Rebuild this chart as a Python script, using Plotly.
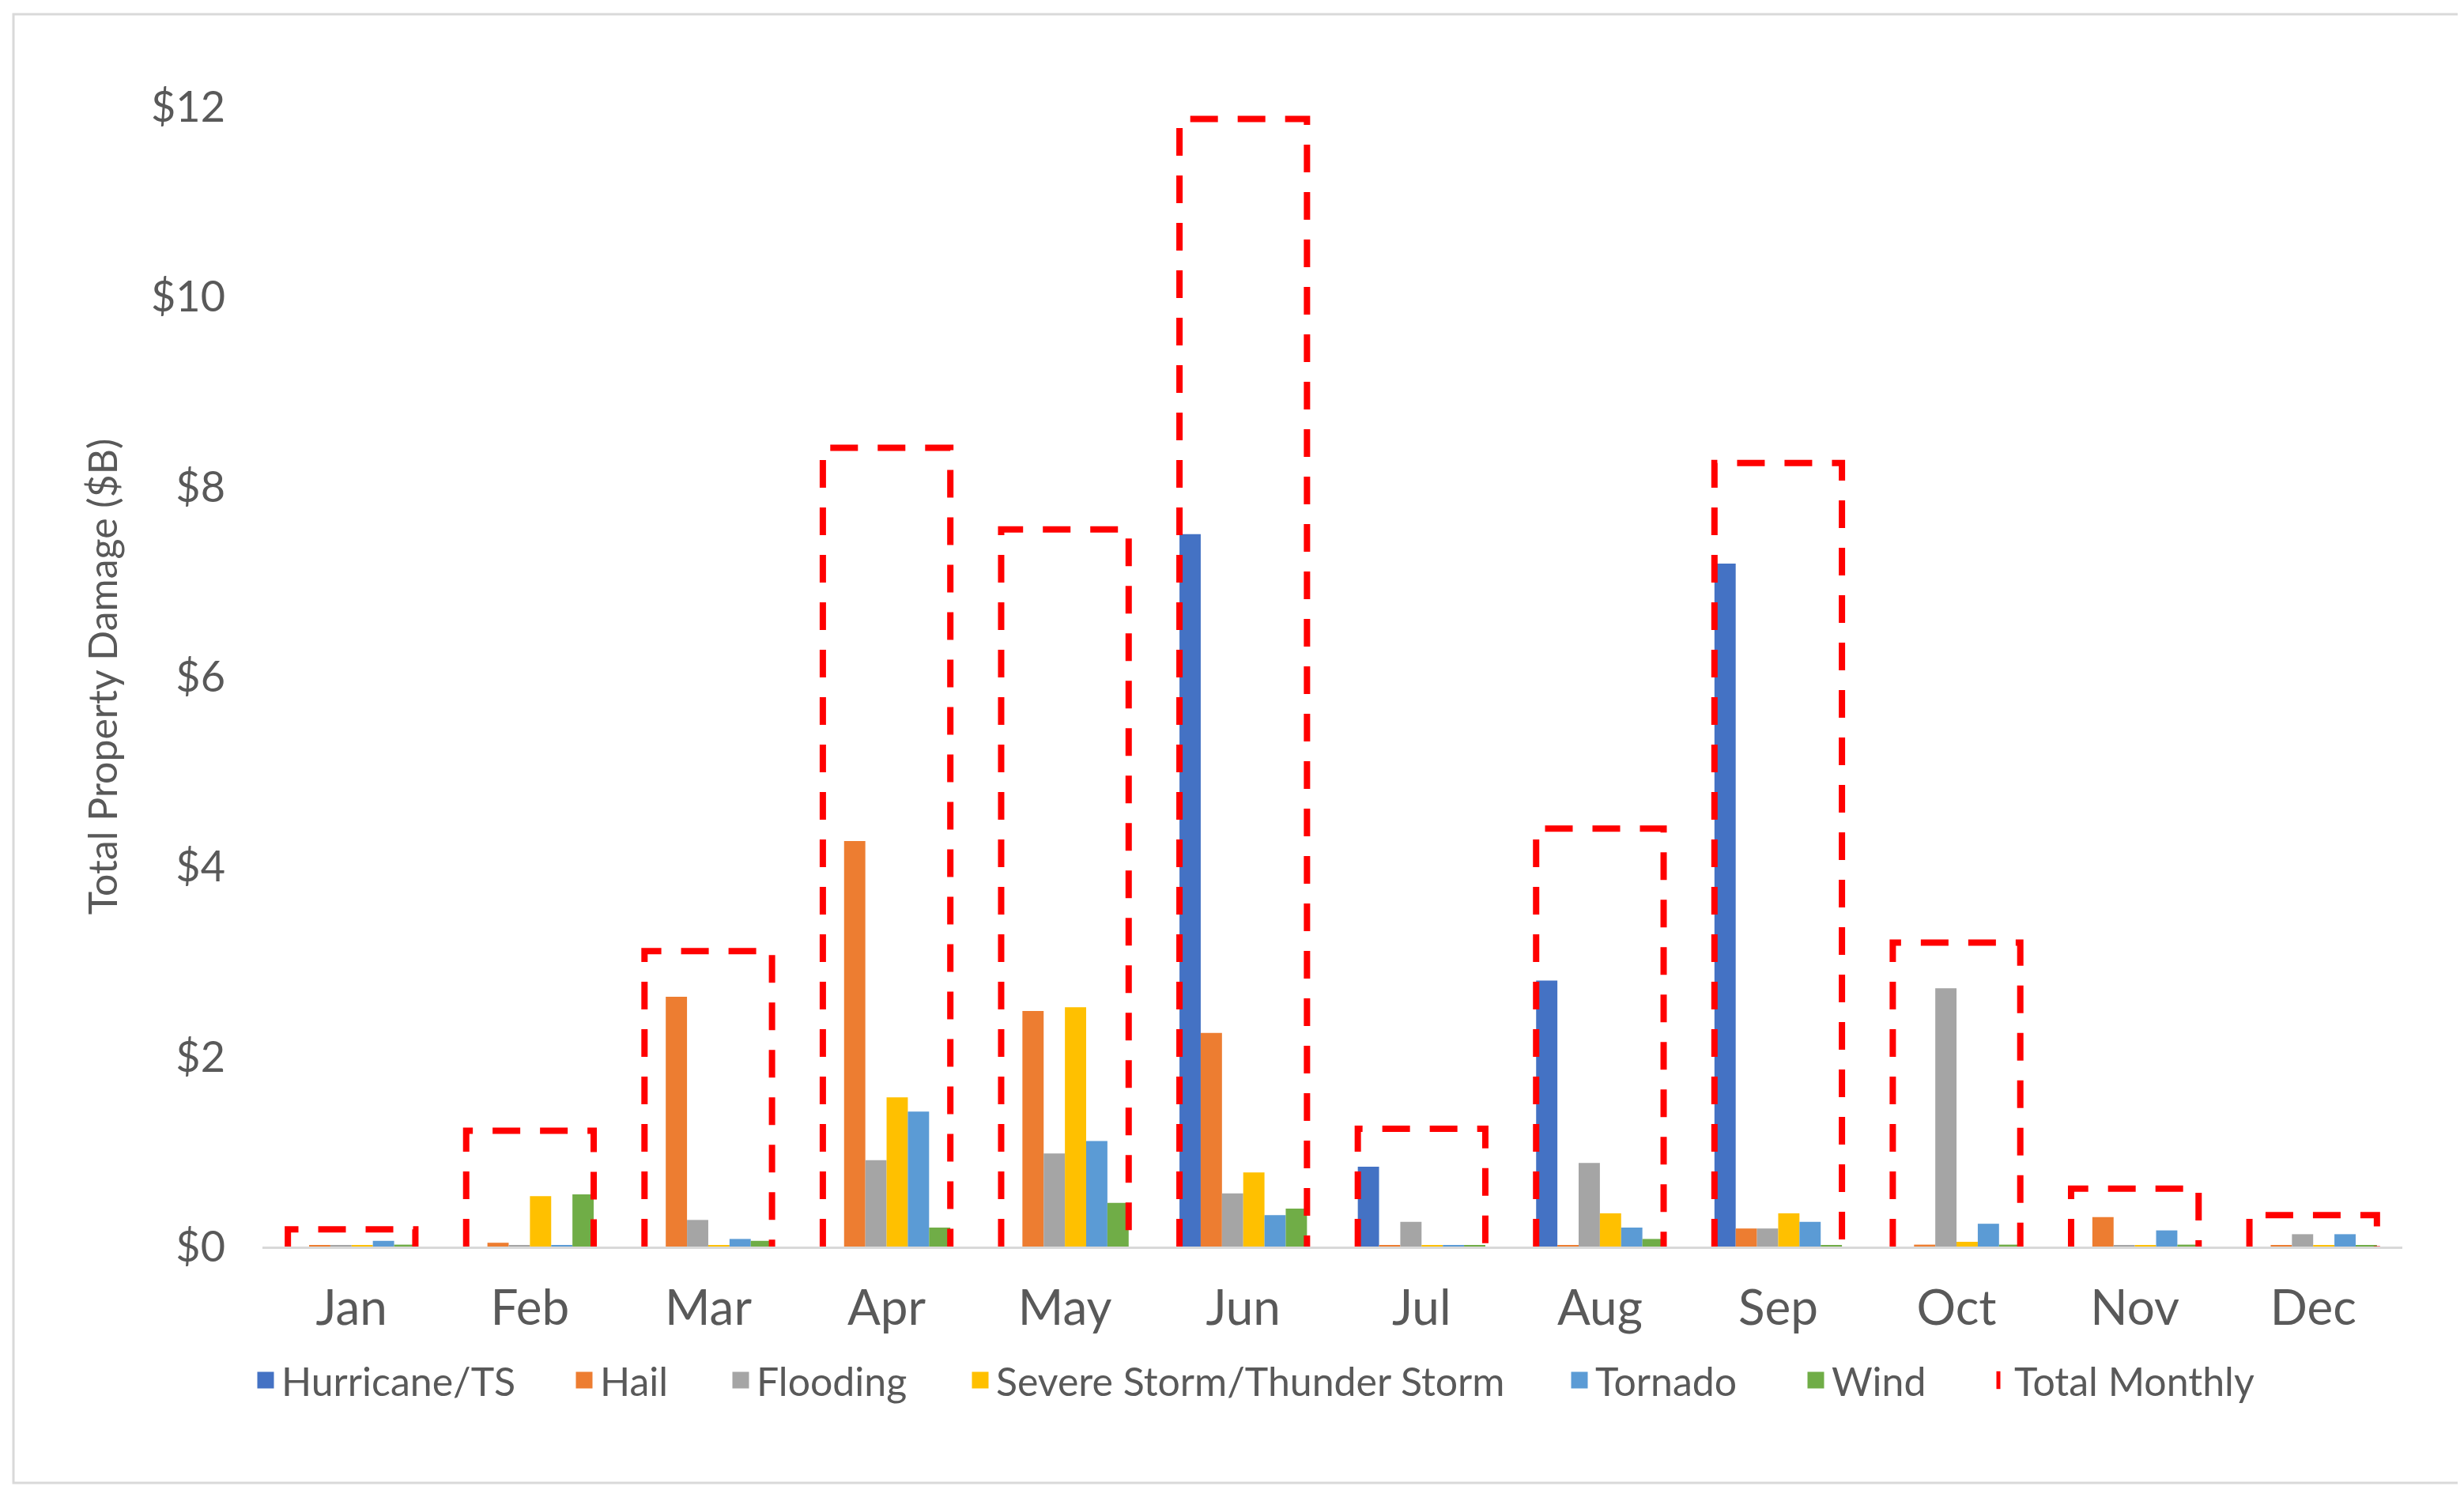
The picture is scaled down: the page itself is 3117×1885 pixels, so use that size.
import plotly.graph_objects as go

months = ["Jan", "Feb", "Mar", "Apr", "May", "Jun", "Jul", "Aug", "Sep", "Oct", "Nov", "Dec"]

hurricane = [0.0, 0.0, 0.0, 0.0, 0.0, 7.50, 0.84, 2.80, 7.19, 0.0, 0.0, 0.0]
hail      = [0.01, 0.04, 2.63, 4.27, 2.48, 2.25, 0.01, 0.01, 0.19, 0.02, 0.31, 0.01]
flooding  = [0.01, 0.01, 0.28, 0.91, 0.98, 0.56, 0.26, 0.88, 0.19, 2.72, 0.01, 0.13]
severe    = [0.01, 0.53, 0.01, 1.57, 2.52, 0.78, 0.01, 0.35, 0.35, 0.05, 0.01, 0.01]
tornado   = [0.06, 0.01, 0.08, 1.42, 1.11, 0.33, 0.01, 0.20, 0.26, 0.24, 0.17, 0.13]
wind      = [0.02, 0.55, 0.06, 0.20, 0.46, 0.40, 0.01, 0.08, 0.01, 0.02, 0.02, 0.01]
total     = [0.18, 1.22, 3.11, 8.41, 7.55, 11.87, 1.24, 4.40, 8.25, 3.20, 0.61, 0.33]

series_names = ["Hurricane/TS", "Hail", "Flooding", "Severe Storm/Thunder Storm", "Tornado", "Wind"]
series_values = [hurricane, hail, flooding, severe, tornado, wind]
series_colors = ["#4472C4", "#ED7D31", "#A5A5A5", "#FFC000", "#5B9BD5", "#70AD47"]
total_name = "Total Monthly"
total_color = "#FF0000"
y_ticks = [0, 2, 4, 6, 8, 10, 12]

W, H = 3117, 1885
L, R, T, B = 324, 86, 127, 316
pw, ph = W - L - R, H - T - B

BARGAP = 0.285
xs = list(range(len(months)))

# legend item symbol centres (px) and legend row centre
legend_centres = [328, 731, 929, 1232, 1990, 2289, 2520]
legend_row_y = 1738
FONT = "Lato, Open Sans, sans-serif"
GREY = "#595959"

fig = go.Figure()
for name, vals, color in zip(series_names, series_values, series_colors):
    fig.add_trace(go.Bar(x=xs, y=vals, name=name, showlegend=False,
                         marker=dict(color=color, line=dict(width=0))))

# dashed outline for the monthly totals (open at the bottom)
half = (1 - BARGAP) / 2
px, py = [], []
for i, t in zip(xs, total):
    px += [i - half, i - half, i + half, i + half, None]
    py += [0, t, t, 0, None]
fig.add_trace(go.Scatter(x=px, y=py, mode="lines", name=total_name, showlegend=False,
                         line=dict(color=total_color, width=8, dash="35px,25px"),
                         hoverinfo="skip"))

# legend entries (one legend per item so spacing matches)
legend_layouts = {}
entries = list(zip(series_names, series_colors)) + [(total_name, total_color)]
for k, (name, color) in enumerate(entries):
    lname = "legend" if k == 0 else f"legend{k + 1}"
    sym = "line-ns-open" if name == total_name else "square"
    fig.add_trace(go.Scatter(x=[None], y=[None], mode="markers", name=name, legend=lname,
                             showlegend=True,
                             marker=dict(symbol=sym, size=16, color=color,
                                         line=dict(color=color, width=5))))
    legend_layouts[lname] = dict(
        orientation="h", xanchor="left", yanchor="middle",
        x=(legend_centres[k] - 20 - L) / pw,
        y=-(legend_row_y - (H - B)) / ph,
        font=dict(size=50, family=FONT, color=GREY),
        itemsizing="trace", bgcolor="rgba(0,0,0,0)", borderwidth=0,
    )

fig.update_layout(
    width=W, height=H,
    margin=dict(l=L, r=R, t=T, b=B),
    paper_bgcolor="white", plot_bgcolor="white",
    barmode="group", bargap=BARGAP, bargroupgap=0,
    font=dict(family=FONT, color=GREY),
    showlegend=True,
    xaxis=dict(range=[-0.5, len(months) - 0.5], tickmode="array", tickvals=xs, ticktext=months,
               showgrid=False, zeroline=False, showline=True, linecolor="#D9D9D9", linewidth=3,
               ticks="", ticklabelstandoff=22,
               tickfont=dict(size=62, family=FONT, color=GREY)),
    yaxis=dict(range=[0, 12], tickmode="array", tickvals=y_ticks,
               ticktext=["$" + str(v) for v in y_ticks],
               showgrid=False, zeroline=False, showline=False, ticks="", ticklabelstandoff=46,
               tickfont=dict(size=54, family=FONT, color=GREY),
               title=dict(text="Total Property Damage ($B)", standoff=26,
                          font=dict(size=50, family=FONT, color=GREY))),
    shapes=[dict(type="rect", xref="paper", yref="paper",
                 x0=(9 - L) / pw, x1=(W - 10 - L) / pw,
                 y0=-(1868 - (H - B)) / ph, y1=1 + (T - 10) / ph,
                 line=dict(color="#D9D9D9", width=3), fillcolor="rgba(0,0,0,0)", layer="below")],
    **legend_layouts,
)

fig.write_html("out.html")
